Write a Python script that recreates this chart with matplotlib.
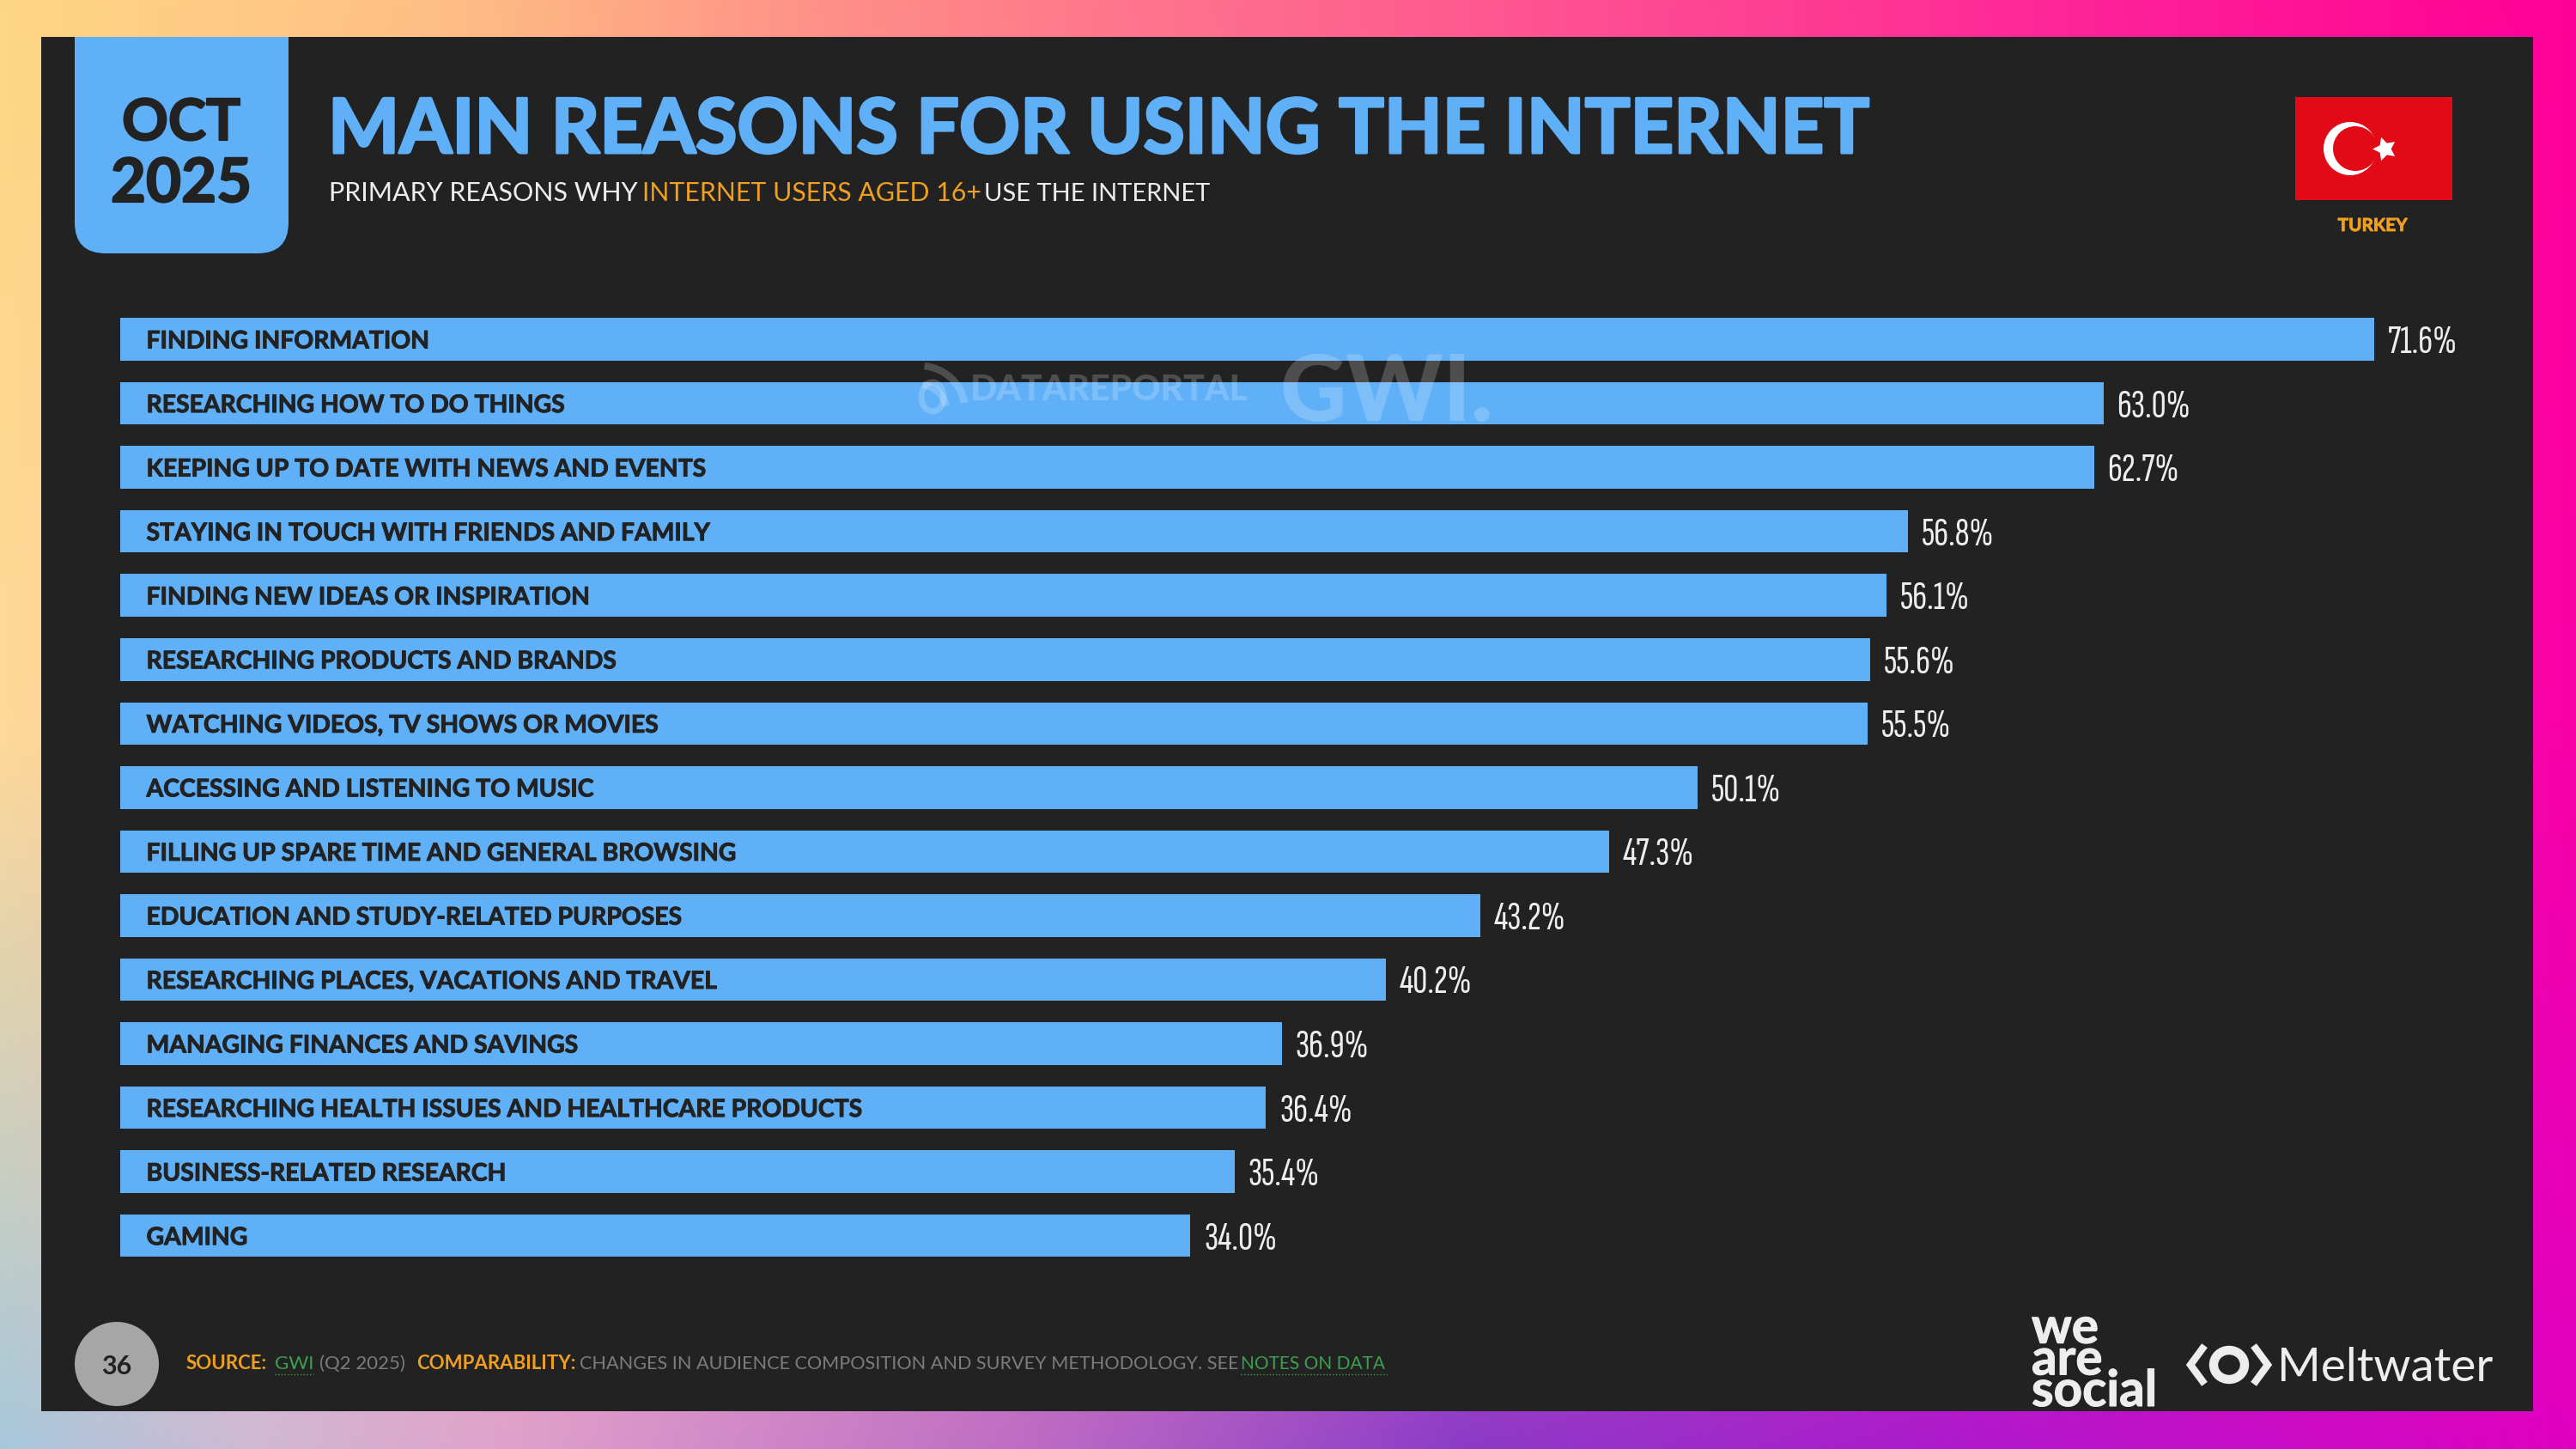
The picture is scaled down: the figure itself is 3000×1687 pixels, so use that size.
import numpy as np
import matplotlib
matplotlib.use("Agg")
import matplotlib.pyplot as plt
import matplotlib.patheffects as pe
from matplotlib import font_manager as fm
from matplotlib.textpath import TextPath
from matplotlib.patches import Rectangle, Circle, Ellipse, FancyBboxPatch, Arc
from matplotlib.lines import Line2D

reasons = ["FINDING INFORMATION", "RESEARCHING HOW TO DO THINGS",
           "KEEPING UP TO DATE WITH NEWS AND EVENTS",
           "STAYING IN TOUCH WITH FRIENDS AND FAMILY",
           "FINDING NEW IDEAS OR INSPIRATION", "RESEARCHING PRODUCTS AND BRANDS",
           "WATCHING VIDEOS, TV SHOWS OR MOVIES",
           "ACCESSING AND LISTENING TO MUSIC",
           "FILLING UP SPARE TIME AND GENERAL BROWSING",
           "EDUCATION AND STUDY-RELATED PURPOSES",
           "RESEARCHING PLACES, VACATIONS AND TRAVEL",
           "MANAGING FINANCES AND SAVINGS",
           "RESEARCHING HEALTH ISSUES AND HEALTHCARE PRODUCTS",
           "BUSINESS-RELATED RESEARCH", "GAMING"]
shares = [71.6, 63.0, 62.7, 56.8, 56.1, 55.6, 55.5, 50.1, 47.3, 43.2, 40.2, 36.9,
          36.4, 35.4, 34.0]

W, H = 3000, 1687
PANEL = "#222222"
BLUE = "#60B0F8"
ORANGE = "#F0A020"
GREEN = "#3E9E50"
GREY = "#7C7C7C"
LIGHT = "#EDEDED"

plt.rcParams["font.family"] = ["Lato", "DejaVu Sans"]


def glyph_size(font, text):
    prop = fm.FontProperties(fname=font.fname, size=100)
    box = TextPath((0, 0), text, prop=prop).get_extents()
    return box.width, box.height


def shape_error(font):
    # the percent labels are about 78 px wide and 30 px tall
    return abs(glyph_size(font, "71.6%")[0] / glyph_size(font, "H")[1] - 2.6)


narrow = [f for f in fm.fontManager.ttflist
          if f.style == "normal" and f.weight in (400, "normal", "regular")
          and "Sans" in f.name and "Mono" not in f.name and "Serif" not in f.name
          and "Italic" not in f.fname and "CJK" not in f.name
          and ("ondensed" in str(f.stretch) or "Condensed" in f.name or "Narrow" in f.name
               or "ondensed" in f.fname or "Narrow" in f.fname)]
if narrow:
    best = min(narrow, key=shape_error)
    size = 100 * (78 / 1.389) / glyph_size(best, "71.6%")[0]
    value_font = {"fontproperties": fm.FontProperties(fname=best.fname, size=size)}
else:
    value_font = {"fontsize": 21}


def bolder(width, color):
    return [pe.withStroke(linewidth=width, foreground=color)]


def hex_rows(stops):
    xs = [s[0] for s in stops]
    cols = np.array([matplotlib.colors.to_rgb(s[1]) for s in stops])
    return np.stack([np.interp(np.arange(W), xs, cols[:, c]) for c in range(3)], axis=1)


# border gradient, only the outer frame stays visible
top = hex_rows([(0, "#FFD684"), (500, "#FFC084"), (1000, "#FF8C88"), (1700, "#FF5A90"),
                (2500, "#FF1E98"), (3000, "#FF0096")])
mid = hex_rows([(0, "#FFD998"), (3000, "#F800A8")])
bot = hex_rows([(0, "#A6C8DC"), (300, "#D0B8D4"), (600, "#E0A0CC"), (1200, "#BC6CC4"),
                (1700, "#8C3CC8"), (2300, "#B018CC"), (3000, "#E000C0")])
ys = np.linspace(0, 1, H)[:, None, None]
gradient = np.where(ys < 0.5, top + (mid - top) * ys * 2, mid + (bot - mid) * (ys - 0.5) * 2)

fig = plt.figure(figsize=(W / 100, H / 100), dpi=100)
bg = fig.add_axes([0, 0, 1, 1])
bg.imshow(gradient, extent=(0, W, H, 0), aspect="auto", zorder=0)
bg.set_xlim(0, W)
bg.set_ylim(H, 0)
bg.axis("off")

panel = Rectangle((48, 43), 2902, 1600, color=PANEL, lw=0, zorder=1)
bg.add_patch(panel)

# date tab, top corners get hidden above the panel edge
tab = FancyBboxPatch((87, 0), 249, 295, boxstyle="round,pad=0,rounding_size=36",
                     color=BLUE, lw=0, zorder=2)
bg.add_patch(tab)
tab.set_clip_path(panel)
bg.text(211, 163, "OCT", color=PANEL, fontsize=48, fontweight="bold", ha="center", va="baseline",
        path_effects=bolder(1.5, PANEL))
bg.text(211, 235, "2025", color=PANEL, fontsize=51, fontweight="bold", ha="center", va="baseline",
        path_effects=bolder(1.5, PANEL))

bg.text(382, 178, "MAIN REASONS FOR USING THE INTERNET", color=BLUE, fontsize=63.4,
        fontweight="bold", va="baseline", path_effects=bolder(2.2, BLUE))
bg.text(383, 234, "PRIMARY REASONS WHY", color=LIGHT, fontsize=22, va="baseline")
bg.text(748, 234, "INTERNET USERS AGED 16+", color=ORANGE, fontsize=21.8, va="baseline")
bg.text(1146, 234, "USE THE INTERNET", color=LIGHT, fontsize=21, va="baseline")

# flag
bg.add_patch(Rectangle((2673, 113), 183, 120, color="#E30A17", lw=0, zorder=2))
bg.add_patch(Circle((2737, 173), 31, color="white", lw=0, zorder=3))
bg.add_patch(Circle((2743, 173), 26, color="#E30A17", lw=0, zorder=4))
bg.scatter([2777], [173], marker=(5, 1, 90), s=430, color="white", lw=0, zorder=5)
bg.text(2763, 269, "TURKEY", color=ORANGE, fontsize=15, fontweight="bold", ha="center", va="baseline",
        path_effects=bolder(0.6, ORANGE))

# bars
scale = 36.66
ax = fig.add_axes([140 / W, 1 - (395 + 14.5 * 74.55) / H, 78 * scale / W, 15 * 74.55 / H])
ax.patch.set_alpha(0)
ax.barh(reasons, shares, height=0.665, color=BLUE, zorder=2)
ax.set_xlim(0, 78)
ax.set_ylim(14.5, -0.5)
ax.axis("off")
for i, (name, val) in enumerate(zip(reasons, shares)):
    ax.annotate(name, (0, i), xytext=(22, 0), textcoords="offset points", color=PANEL,
                fontsize=20.4, fontweight="bold", va="center_baseline", zorder=3,
                path_effects=bolder(0.7, PANEL))
    ax.annotate("%.1f%%" % val, (val, i), xytext=(11.5, 0), textcoords="offset points",
                color=LIGHT, va="center_baseline", zorder=3, **value_font)

# watermark over the bars
wm = fig.add_axes([0, 0, 1, 1])
wm.patch.set_alpha(0)
wm.set_xlim(0, W)
wm.set_ylim(H, 0)
wm.axis("off")
wm.text(1130, 466, "DATAREPORTAL", color="white", alpha=0.2, fontsize=29.5, fontweight="black", va="baseline")
wm.text(1490, 490, "GWI.", color="white", alpha=0.2, fontsize=77, fontweight="black", va="baseline")
wm.add_patch(Ellipse((1086, 462), 26, 34, fill=False, ec="white", alpha=0.2, lw=5))
for r in (30, 52):
    wm.add_patch(Arc((1072, 478), r * 2, r * 2, theta1=275, theta2=350, ec="white", alpha=0.2, lw=6))

# footer
bg.add_patch(Circle((136, 1588), 49, color="#A6A6A6", lw=0, zorder=2))
bg.text(136, 1589, "36", color=PANEL, fontsize=22, fontweight="bold", ha="center",
        va="center_baseline", zorder=3)
fy = 1594
bg.text(217, fy, "SOURCE:", color=ORANGE, fontsize=16, fontweight="bold", va="baseline")
bg.text(320, fy, "GWI", color=GREEN, fontsize=16, va="baseline")
bg.text(372, fy, "(Q2 2025)", color=GREY, fontsize=16, va="baseline")
bg.text(485, fy, "COMPARABILITY:", color=ORANGE, fontsize=16, fontweight="bold", va="baseline")
bg.text(675, fy, "CHANGES IN AUDIENCE COMPOSITION AND SURVEY METHODOLOGY. SEE", color=GREY,
        fontsize=15.6, va="baseline")
bg.text(1445, fy, "NOTES ON DATA", color=GREEN, fontsize=15, va="baseline")
bg.add_line(Line2D([320, 365], [fy + 6, fy + 6], color=GREEN, lw=1, ls=":", zorder=3))
bg.add_line(Line2D([1445, 1616], [fy + 6, fy + 6], color=GREEN, lw=1, ls=":", zorder=3))

# logos
bg.text(2366, 1637, "we\nare\nsocial", color=LIGHT, fontsize=42, fontweight="bold", va="baseline",
        linespacing=0.62, path_effects=bolder(0.8, LIGHT))
bg.add_line(Line2D([2565, 2551, 2565], [1570, 1589, 1608], color=LIGHT, lw=6, zorder=3,
                   solid_joinstyle="miter"))
bg.add_line(Line2D([2627, 2641, 2627], [1570, 1589, 1608], color=LIGHT, lw=6, zorder=3,
                   solid_joinstyle="miter"))
bg.add_patch(Ellipse((2596, 1589), 36, 34, fill=False, ec=LIGHT, lw=7.5, zorder=3))
bg.text(2652, 1608, "Meltwater", color=LIGHT, fontsize=39.5, va="baseline")

fig.savefig("out.png", dpi=100)
